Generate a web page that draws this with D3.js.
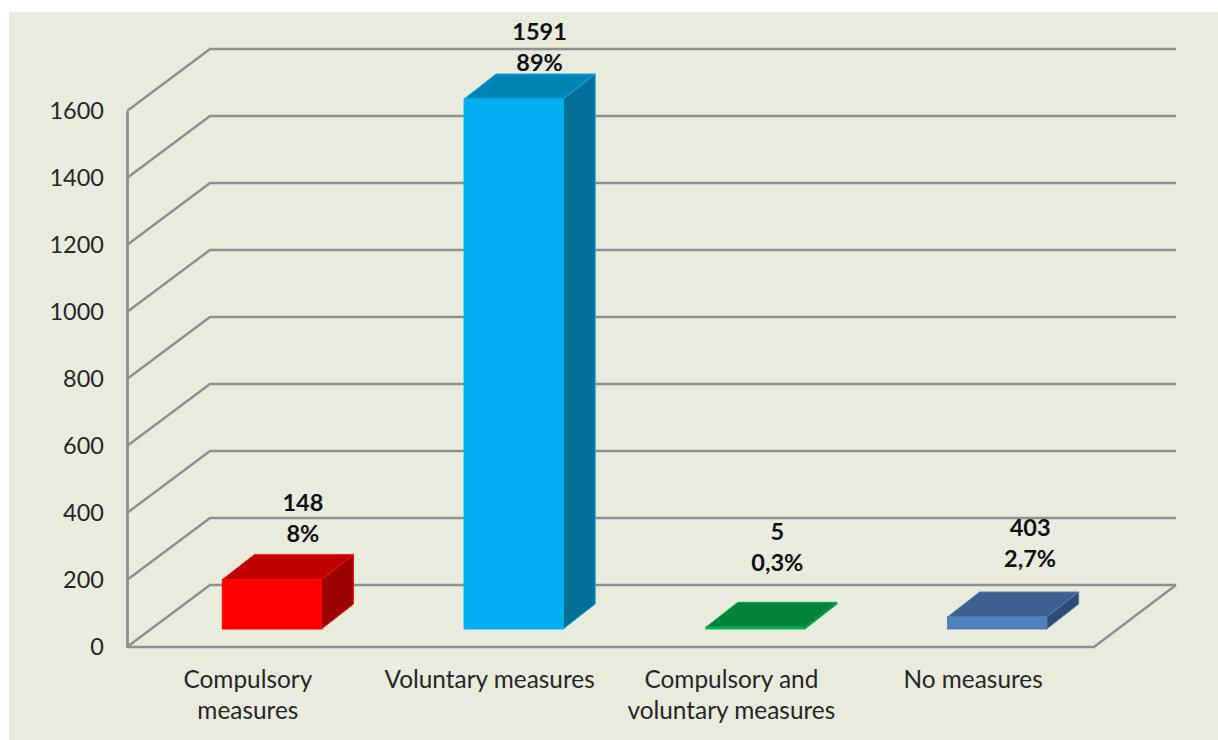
<!DOCTYPE html>
<html>
<head>
<meta charset="utf-8">
<script src="https://cdn.jsdelivr.net/npm/d3@7"></script>
<style>
html, body { margin: 0; padding: 0; background: #fff; }
svg { display: block; }
text { font-family: Lato, "Open Sans", sans-serif; }
</style>
</head>
<body>
<div id="graphic"></div>
<script>
// values
var categories = ["Compulsory measures", "Voluntary measures", "Compulsory and voluntary measures", "No measures"];
var categoryLines = [["Compulsory", "measures"], ["Voluntary measures"], ["Compulsory and", "voluntary measures"], ["No measures"]];
var barValues = [148, 1591, 5, 36]; // last bar is drawn far shorter than its 403 label
var countLabels = ["148", "1591", "5", "403"];
var percentLabels = ["8%", "89%", "0,3%", "2,7%"];
var yTicks = [0, 200, 400, 600, 800, 1000, 1200, 1400, 1600];

var frontColors = ["#ff0000", "#00b0f0", "#00b050", "#4f81bd"];
var topColors = ["#bd0000", "#0084b4", "#00843c", "#3b618e"];
var sideColors = ["#9c0000", "#006f98", "#006b30", "#2f4d72"];
var labelNudge = [[31, -69], [26, -59], [22, -87], [33, -81]];

var width = 1218, height = 740;
var wall = { dx: 83, dy: -62 };
var depth = { dx: 32, dy: -25 };
var gridColor = "#8f8f8f";

var svg = d3.select("#graphic").append("svg")
    .attr("width", width)
    .attr("height", height);

svg.append("rect")
    .attr("x", 9).attr("y", 12)
    .attr("width", width - 9).attr("height", height - 12)
    .attr("fill", "#e9ecdc");

var y = d3.scaleLinear().domain([0, 1600]).range([647, 111]);
// bars stand a little way into the floor, so their plane has its own scale
var yBar = d3.scaleLinear().domain([0, 1600]).range([629, 96]);
var xOuter = d3.scaleBand().domain(categories).range([127, 1094]);
var x = d3.scaleBand().domain(categories).range([151, 1118])
    .paddingInner(0.59).paddingOuter(0.295);

// grid: side wall then back wall
svg.append("g").selectAll("path")
    .data(yTicks)
    .enter().append("path")
    .attr("d", function (d) {
        var p = d3.path();
        p.moveTo(127, y(d));
        p.lineTo(127 + wall.dx, y(d) + wall.dy);
        p.lineTo(1176, y(d) + wall.dy);
        return p.toString();
    })
    .attr("fill", "none")
    .attr("stroke", gridColor)
    .attr("stroke-width", 2.4);

// floor front and right edges
var floor = d3.path();
floor.moveTo(127, y(0));
floor.lineTo(1094, y(0));
floor.lineTo(1176, y(0) + wall.dy);
svg.append("path")
    .attr("d", floor.toString())
    .attr("fill", "none")
    .attr("stroke", gridColor)
    .attr("stroke-width", 2.4);

var yAxis = d3.axisLeft(y).tickValues(yTicks).tickSize(0).tickPadding(23).tickFormat(d3.format("d"));
var yG = svg.append("g").attr("transform", "translate(127,0)").call(yAxis);
yG.select(".domain").attr("stroke", gridColor).attr("stroke-width", 2.8);
yG.selectAll("text")
    .attr("font-size", 23.5)
    .attr("fill", "#262626")
    .attr("dy", "0.3em");

var xAxis = d3.axisBottom(xOuter).tickSize(0).tickFormat("");
var xG = svg.append("g").attr("transform", "translate(0,647)").call(xAxis);
xG.select(".domain").remove();
xG.selectAll(".tick text").each(function (d, i) {
    var t = d3.select(this)
        .attr("y", 41)
        .attr("dy", 0)
        .attr("font-size", 24.4)
        .attr("fill", "#262626");
    categoryLines[i].forEach(function (line, k) {
        t.append("tspan").attr("x", 0).attr("y", 41 + k * 31).text(line);
    });
});

// bars, drawn as front + top + side faces
var bars = svg.append("g").selectAll("g")
    .data(categories)
    .enter().append("g");

function poly(points) {
    return d3.line()(points) + "Z";
}

bars.append("path") // top
    .attr("d", function (d, i) {
        var x0 = x(d), x1 = x0 + x.bandwidth(), t = yBar(barValues[i]);
        return poly([[x0, t], [x1, t], [x1 + depth.dx, t + depth.dy], [x0 + depth.dx, t + depth.dy]]);
    })
    .attr("fill", function (d, i) { return topColors[i]; })
    .attr("stroke", function (d, i) { return frontColors[i]; })
    .attr("stroke-width", 1);

bars.append("path") // side
    .attr("d", function (d, i) {
        var x1 = x(d) + x.bandwidth(), t = yBar(barValues[i]), b = yBar(0);
        return poly([[x1, t], [x1 + depth.dx, t + depth.dy], [x1 + depth.dx, b + depth.dy], [x1, b]]);
    })
    .attr("fill", function (d, i) { return sideColors[i]; })
    .attr("stroke", function (d, i) { return frontColors[i]; })
    .attr("stroke-width", 1);

bars.append("rect") // front
    .attr("x", function (d) { return x(d); })
    .attr("y", function (d, i) { return yBar(barValues[i]); })
    .attr("width", x.bandwidth())
    .attr("height", function (d, i) { return yBar(0) - yBar(barValues[i]); })
    .attr("fill", function (d, i) { return frontColors[i]; })
    .attr("stroke", function (d, i) { return frontColors[i]; })
    .attr("stroke-width", 1);

// data labels: count over percent
bars.each(function (d, i) {
    var cx = x(d) + x.bandwidth() / 2 + labelNudge[i][0];
    var base = yBar(barValues[i]) + labelNudge[i][1];
    var g = d3.select(this);
    g.append("text").attr("x", cx).attr("y", base)
        .attr("text-anchor", "middle").attr("font-size", 23.5).attr("font-weight", 700)
        .attr("fill", "#111").text(countLabels[i]);
    g.append("text").attr("x", cx).attr("y", base + 31)
        .attr("text-anchor", "middle").attr("font-size", 23.5).attr("font-weight", 700)
        .attr("fill", "#111").text(percentLabels[i]);
});
</script>
</body>
</html>
